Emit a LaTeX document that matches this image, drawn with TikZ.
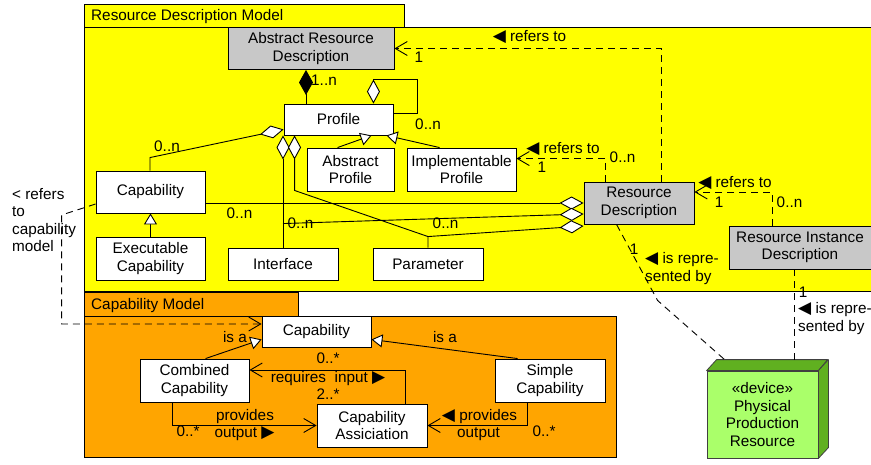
\documentclass[tikz,border=0pt]{standalone}
\usepackage{fontspec}
\setmainfont{Liberation Sans}
\newfontfamily\symf{DejaVu Sans}
\usetikzlibrary{arrows.meta,calc}
\definecolor{rdmyellow}{RGB}{255,255,0}
\definecolor{cmorange}{RGB}{255,165,0}
\definecolor{boxgray}{RGB}{200,200,200}
\definecolor{devlight}{RGB}{170,255,106}
\definecolor{devdark}{RGB}{96,176,32}
\newcommand\ltri{{\symf\fontsize{17}{17}\selectfont ◀}}
\newcommand\rtri{{\symf\fontsize{17}{17}\selectfont ▶}}
\begin{document}
\begin{tikzpicture}[x=1pt,y=-1pt,
 font=\fontsize{15.3}{17.5}\selectfont,
 box/.style={draw=black, line width=0.9pt, fill=white, inner sep=0pt, align=center},
 gbox/.style={box, fill=boxgray},
 lbl/.style={inner sep=0pt, text height=11pt, text depth=3pt},
 ln/.style={line width=0.9pt},
 dep/.style={ln, dash pattern=on 7pt off 5pt},
 agg/.style={ln, {Diamond[fill=white,length=24pt,width=13pt]}-},
 comp/.style={ln, {Diamond[fill=black,length=25pt,width=14pt]}-},
 gen/.style={ln, -{Triangle[fill=white,length=11pt,width=13pt]}},
 opn/.style={ln, -{Straight Barb[length=12pt,width=14pt]}},
]
\useasboundingbox (0,0) rectangle (871,464);
\fill[white] (0,0) rectangle (871,464);
% packages
\draw[fill=rdmyellow, line width=0.9pt] (84,27) rectangle (873,291);
\draw[fill=rdmyellow, line width=0.9pt] (84,4) rectangle (404,27);
\node[lbl, anchor=west] (rdmtitle) at (91,16) {Resource Description Model};
\draw[fill=cmorange, line width=0.9pt] (84,316) rectangle (616,457);
\draw[fill=cmorange, line width=0.9pt] (84,292.5) rectangle (298,316);
\node[lbl, anchor=west] (cmtitle) at (91,305) {Capability Model};
% nodes
\node[gbox, minimum width=166pt, minimum height=42pt] (ard) at (311,48.5) {Abstract Resource\\Description};
\node[box, minimum width=109pt, minimum height=31pt] (profile) at (338.5,119.5) {Profile};
\node[box, minimum width=87pt, minimum height=43pt] (absprof) at (350.5,169.5) {Abstract\\Profile};
\node[box, minimum width=109pt, minimum height=43pt] (implprof) at (461.5,169.5) {Implementable\\Profile};
\node[gbox, minimum width=110pt, minimum height=42pt] (rd) at (639,203) {Resource\\Description};
\node[gbox, minimum width=142pt, minimum height=43pt] (rid) at (800,247.5) {Resource Instance\\Description};
\node[box, minimum width=109pt, minimum height=42pt] (cap1) at (150.5,192) {Capability};
\node[box, minimum width=109pt, minimum height=43pt] (execcap) at (150.5,258.5) {Executable\\Capability};
\node[box, minimum width=110pt, minimum height=32pt] (iface) at (283,264) {Interface};
\node[box, minimum width=110pt, minimum height=32pt] (param) at (428,264) {Parameter};
\node[box, minimum width=109pt, minimum height=31pt] (cap2) at (316.5,331.5) {Capability};
\node[box, minimum width=109pt, minimum height=43pt] (combcap) at (194.5,380.5) {Combined\\Capability};
\node[box, minimum width=110pt, minimum height=43pt] (capass) at (372,425.5) {Capability\\Assiciation};
\node[box, minimum width=110pt, minimum height=43pt] (simplecap) at (550,380.5) {Simple\\Capability};
% device
\node[draw=black!75, line width=0.8pt, fill=devlight, minimum width=111pt, minimum height=87pt, inner sep=0pt, align=center] (dev) at (762.5,414.5) {«device»\\Physical\\Production\\Resource};
\draw[draw=black!75, fill=devdark, line width=0.8pt, line join=round] (dev.north west) -- ++(10,-11) -- ++(111,0) -- (dev.north east) -- cycle;
\draw[draw=black!75, fill=devdark, line width=0.8pt, line join=round] (dev.north east) -- ++(10,-11) -- ++(0,88) -- (dev.south east) -- cycle;
% composition
\coordinate (c1) at ($(ard.south)+(-5,0)$);
\draw[comp] (c1) -- (c1 |- profile.north);
\node[lbl] (l1) at (324,81) {1..n};
% self loop
\coordinate (s1) at ($(profile.north east)+(-20,0)$);
\coordinate (s2) at ($(profile.north east)+(24,-24)$);
\coordinate (s3) at ($(profile.north east)+(0,10)$);
\draw[agg] (s1) |- (s2) |- (s3);
\node[lbl] (l2) at (428,125) {0..n};
% capability - profile
\coordinate (p2) at ($(profile.south west)+(0,-6)$);
\coordinate (b2) at ($(cap1.north)+(-0.5,-13)$);
\draw[agg] (p2) -- (b2) -- (b2 |- cap1.north);
\node[lbl] (l3) at (167,147) {0..n};
% interface
\draw[agg] (iface.north |- profile.south) -- (iface.north);
% parameter
\coordinate (p3) at ($(profile.south west)+(11,0)$);
\coordinate (b3) at ($(p3)+(0,55)$);
\coordinate (b4) at ($(param.north)+(0,-11)$);
\draw[agg] (p3) -- (b3) -- (b4) -- (param.north);
% generalizations
\draw[gen] ($(absprof.north west)+(31,0)$) -- ($(profile.south west)+(88,0)$);
\draw[gen] ($(implprof.north west)+(33,0)$) -- ($(profile.south east)+(-7,0)$);
\draw[gen] (execcap.north) -- (cap1.south);
% RD aggregations
\draw[agg] (rd.west) -- (rd.west -| cap1.east);
\node[lbl] (l4) at (239.5,214) {0..n};
\coordinate (r2) at ($(rd.west)+(0,11)$);
\coordinate (i2) at ($(iface.north)+(0,-24)$);
\draw[agg] (r2) -- (i2);
\node[lbl] (l5) at (300.5,224) {0..n};
\coordinate (r3) at ($(rd.west)+(0,23)$);
\draw[agg] (r3) -- (b4);
\node[lbl] (l6) at (445.5,224) {0..n};
% dependencies
\coordinate (d1) at ($(rd.north west)+(22,0)$);
\coordinate (e1) at ($(implprof.north east)+(0,11)$);
\draw[dep, opn] (d1) |- (e1);
\node[lbl] (l7) at (563,149) {\ltri\ refers to};
\node[lbl] (l8) at (542,168) {1};
\node[lbl] (l9) at (622.5,158) {0..n};
\coordinate (d2) at ($(rd.north west)+(78,0)$);
\draw[dep, opn] (d2) |- (ard.east);
\node[lbl] (l10) at (529.5,37) {\ltri\ refers to};
\node[lbl] (l11) at (419,58) {1};
\coordinate (d3) at ($(rid.north west)+(44,0)$);
\coordinate (e3) at ($(rd.east)+(0,-11)$);
\draw[dep, opn] (d3) |- (e3);
\node[lbl] (l12) at (735,183) {\ltri\ refers to};
\node[lbl] (l13) at (719,203) {1};
\node[lbl] (l14) at (789.5,203) {0..n};
% reference to capability model
\coordinate (d4) at ($(cap1.west)+(0,12)$);
\coordinate (k4) at ($(cap1.west)+(-34,23)$);
\coordinate (e4) at ($(cap2.west)+(0,-7.5)$);
\draw[dep, opn] (d4) -- (k4) |- (e4);
\node[inner sep=0pt, anchor=west, align=left] (l15) at (12,220) {< refers\\to\\capability\\model};
% capability model
\coordinate (g1) at ($(combcap.north west)+(66,0)$);
\coordinate (g1e) at ($(cap2.south west)+(0,-8)$);
\draw[gen] (g1) -- (g1e);
\node[lbl] (l16) at (235,338) {is a};
\coordinate (g2) at ($(simplecap.north west)+(23,0)$);
\coordinate (g2e) at ($(cap2.south east)+(0,-8)$);
\draw[gen] (g2) -- (g2e);
\node[lbl] (l17) at (445,338) {is a};
\coordinate (q1) at ($(capass.north west)+(89,0)$);
\coordinate (q1e) at ($(combcap.east)+(0,-10.5)$);
\draw[opn] (q1) |- (q1e);
\node[lbl] (l18) at (328,359) {0..*};
\node[lbl] (l19) at (328,378) {requires\ \ input \rtri};
\node[lbl] (l20) at (328,395) {2..*};
\coordinate (q2) at ($(combcap.south west)+(33,0)$);
\draw[opn] (q2) |- (capass.west);
\node[lbl] (l21) at (188,432) {0..*};
\node[lbl] (l22) at (245,416) {provides};
\node[lbl] (l23) at (244.5,433) {output \rtri};
\coordinate (q3) at ($(simplecap.south west)+(33,0)$);
\draw[opn] (q3) |- (capass.east);
\node[lbl] (l24) at (479.5,416) {\ltri\ provides};
\node[lbl] (l25) at (478.5,433) {output};
\node[lbl] (l26) at (544,432) {0..*};
% representation
\coordinate (d5) at ($(rd.south west)+(33,0)$);
\coordinate (k5) at ($(rd.south west)+(74,76)$);
\coordinate (e5) at ($(dev.north west)+(18,-11)$);
\draw[dep] (d5) -- (k5) -- (e5);
\node[lbl] (l27) at (634,250) {1};
\node[lbl, anchor=west] (l28) at (645,259) {\ltri\ is repre-};
\node[lbl, anchor=west] (l29) at (645,277) {sented by};
\coordinate (d6) at ($(rid.south west)+(66,0)$);
\draw[dep] (d6) -- (d6 |- e5);
\node[lbl] (l30) at (803,293) {1};
\node[lbl, anchor=west] (l31) at (798,309) {\ltri\ is repre-};
\node[lbl, anchor=west] (l32) at (798,327) {sented by};
\end{tikzpicture}
\end{document}
